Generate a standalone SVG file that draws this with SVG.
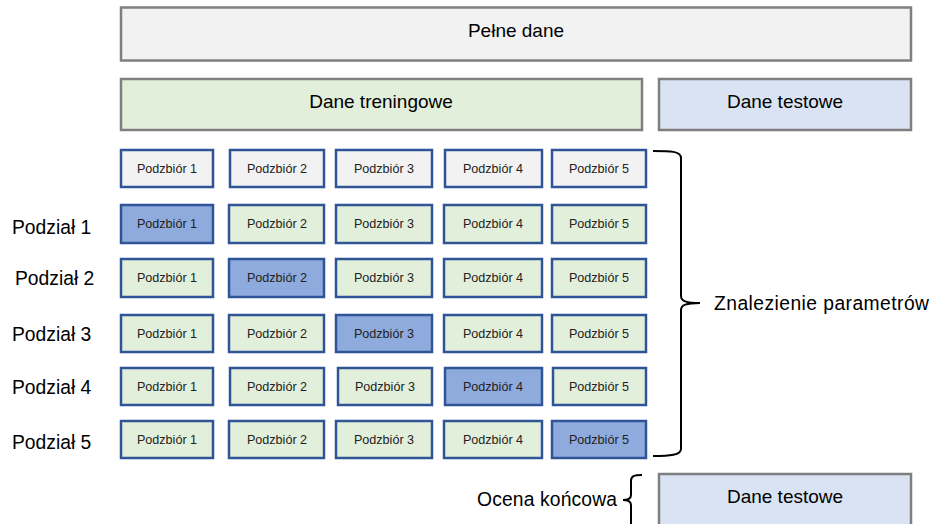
<svg xmlns="http://www.w3.org/2000/svg" width="934" height="524" viewBox="0 0 934 524">
<style>
.big{fill:#f2f2f2;stroke:#7f7f7f;stroke-width:2.5}
.tr{fill:#e2efda;stroke:#7f7f7f;stroke-width:2.5}
.te{fill:#dae3f3;stroke:#7f7f7f;stroke-width:2.5}
.s{stroke:#2f5597;stroke-width:2.5}
.g{fill:#f2f2f2}
.n{fill:#e2efda}
.h{fill:#8faadc}
text{font-family:"Liberation Sans",Arial,sans-serif}
.bt{font-size:19px;fill:#000;text-anchor:middle}
.st{font-size:12.6px;fill:#222;text-anchor:middle}
.lb{font-size:19.3px;fill:#000}
.br{fill:none;stroke:#000;stroke-width:2}
</style>
<g id="pelne"><rect class="big" x="121" y="7.5" width="790" height="53"/><text class="bt" x="516" y="37">Pełne dane</text></g>
<g id="treningowe"><rect class="tr" x="121" y="79" width="521" height="51"/><text class="bt" x="381" y="108">Dane treningowe</text></g>
<g id="testowe"><rect class="te" x="659" y="79" width="252" height="51"/><text class="bt" x="785" y="108">Dane testowe</text></g>

<g id="row0">
<rect class="s g" x="121" y="150" width="92" height="37"/><text class="st" x="167" y="172.5">Podzbiór 1</text>
<rect class="s g" x="230" y="150" width="94" height="37"/><text class="st" x="277" y="172.5">Podzbiór 2</text>
<rect class="s g" x="336" y="150" width="96" height="37"/><text class="st" x="384" y="172.5">Podzbiór 3</text>
<rect class="s g" x="445" y="150" width="97" height="37"/><text class="st" x="493" y="172.5">Podzbiór 4</text>
<rect class="s g" x="552" y="150" width="94" height="37"/><text class="st" x="599" y="172.5">Podzbiór 5</text>
</g>
<g id="row1">
<rect class="s h" x="121" y="205" width="92" height="38"/><text class="st" x="167" y="228">Podzbiór 1</text>
<rect class="s n" x="229" y="205" width="95" height="38"/><text class="st" x="277" y="228">Podzbiór 2</text>
<rect class="s n" x="336" y="205" width="96" height="38"/><text class="st" x="384" y="228">Podzbiór 3</text>
<rect class="s n" x="444" y="205" width="98" height="38"/><text class="st" x="493" y="228">Podzbiór 4</text>
<rect class="s n" x="552" y="205" width="94" height="38"/><text class="st" x="599" y="228">Podzbiór 5</text>
</g>
<g id="row2">
<rect class="s n" x="121" y="259" width="92" height="38"/><text class="st" x="167" y="282">Podzbiór 1</text>
<rect class="s h" x="229" y="259" width="95" height="38"/><text class="st" x="277" y="282">Podzbiór 2</text>
<rect class="s n" x="336" y="259" width="96" height="38"/><text class="st" x="384" y="282">Podzbiór 3</text>
<rect class="s n" x="444" y="259" width="98" height="38"/><text class="st" x="493" y="282">Podzbiór 4</text>
<rect class="s n" x="552" y="259" width="94" height="38"/><text class="st" x="599" y="282">Podzbiór 5</text>
</g>
<g id="row3">
<rect class="s n" x="121" y="315" width="92" height="37"/><text class="st" x="167" y="337.5">Podzbiór 1</text>
<rect class="s n" x="229" y="315" width="95" height="37"/><text class="st" x="277" y="337.5">Podzbiór 2</text>
<rect class="s h" x="336" y="315" width="96" height="37"/><text class="st" x="384" y="337.5">Podzbiór 3</text>
<rect class="s n" x="444" y="315" width="98" height="37"/><text class="st" x="493" y="337.5">Podzbiór 4</text>
<rect class="s n" x="552" y="315" width="94" height="37"/><text class="st" x="599" y="337.5">Podzbiór 5</text>
</g>
<g id="row4">
<rect class="s n" x="121" y="368" width="92" height="37"/><text class="st" x="167" y="390.5">Podzbiór 1</text>
<rect class="s n" x="230" y="368" width="94" height="37"/><text class="st" x="277" y="390.5">Podzbiór 2</text>
<rect class="s n" x="338" y="368" width="94" height="37"/><text class="st" x="385" y="390.5">Podzbiór 3</text>
<rect class="s h" x="445" y="368" width="97" height="37"/><text class="st" x="493" y="390.5">Podzbiór 4</text>
<rect class="s n" x="553" y="368" width="93" height="37"/><text class="st" x="599" y="390.5">Podzbiór 5</text>
</g>
<g id="row5">
<rect class="s n" x="121" y="421" width="92" height="37"/><text class="st" x="167" y="443.5">Podzbiór 1</text>
<rect class="s n" x="229" y="421" width="95" height="37"/><text class="st" x="277" y="443.5">Podzbiór 2</text>
<rect class="s n" x="336" y="421" width="96" height="37"/><text class="st" x="384" y="443.5">Podzbiór 3</text>
<rect class="s n" x="444" y="421" width="98" height="37"/><text class="st" x="493" y="443.5">Podzbiór 4</text>
<rect class="s h" x="552" y="421" width="94" height="37"/><text class="st" x="599" y="443.5">Podzbiór 5</text>
</g>

<g id="labels">
<text class="lb" x="12" y="234">Podział 1</text>
<text class="lb" x="15" y="285">Podział 2</text>
<text class="lb" x="12" y="341">Podział 3</text>
<text class="lb" x="12" y="394">Podział 4</text>
<text class="lb" x="12" y="449">Podział 5</text>
</g>

<g id="connectors">
<path class="br" d="M653,151 C670,151 681,151 681,158 L681,296 C681,301 686,303 700,303 C686,303 681,305 681,310 L681,449 C681,455 670,456 653,456"/>
<path class="br" d="M642,475 C634,475 631,476 631,481 L631,495 C631,499 628,500 623,500 C628,500 631,501 631,505 L631,530"/>
</g>
<g id="znalezienie"><text class="lb" x="714" y="310" textLength="215">Znalezienie parametrów</text></g>
<g id="ocena"><text class="lb" x="477" y="506" textLength="140">Ocena końcowa</text></g>
<g id="testowe2"><rect class="te" x="659" y="474" width="252" height="60"/><text class="bt" x="785" y="503">Dane testowe</text></g>
</svg>
